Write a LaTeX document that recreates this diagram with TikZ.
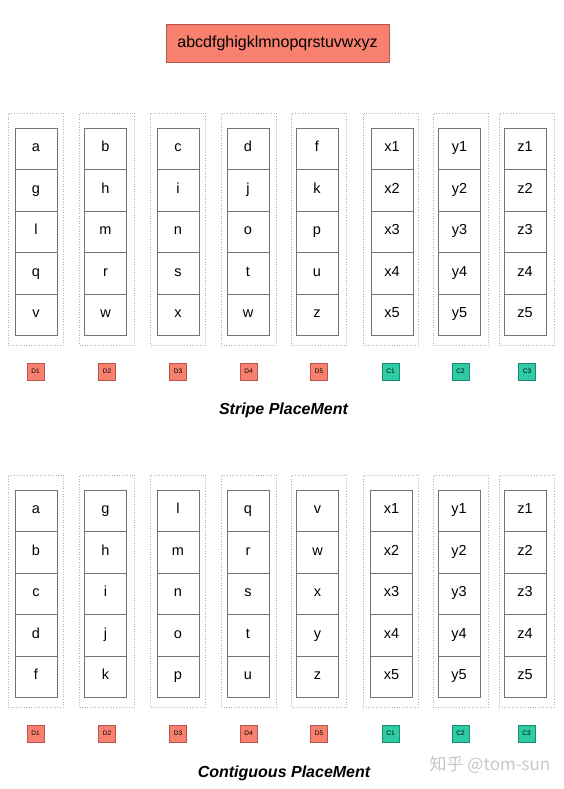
\documentclass[tikz,border=0pt]{standalone}
\usepackage{fontspec}
\setmainfont{Liberation Sans}
\newfontfamily\cjk{Noto Sans CJK SC}
\usetikzlibrary{positioning}
\definecolor{salmonfill}{HTML}{F8806F}
\definecolor{salmonline}{HTML}{B85450}
\definecolor{tealfill}{HTML}{2ECBA4}
\definecolor{tealline}{HTML}{1B8A6E}
\begin{document}
\begin{tikzpicture}[x=1pt,y=-1pt]
                \tikzstyle{cell}=[draw=black!55, line width=0.7pt, minimum width=42pt, minimum height=41.5pt, inner sep=0pt, outer sep=0pt, text height=1.45ex, text depth=0.3ex, font=\fontsize{14.5}{16}\selectfont]
                \tikzstyle{slot}=[draw=black!30, dotted, line width=0.6pt, minimum width=55pt, minimum height=232pt, inner sep=0pt, outer sep=0pt]
                \tikzstyle{disk}=[draw=salmonline, fill=salmonfill, minimum size=17pt, inner sep=0pt, font=\fontsize{6.5}{7}\selectfont]
                \tikzstyle{chk}=[disk, draw=tealline, fill=tealfill]
                \tikzstyle{caption}=[font=\fontsize{16}{18}\bfseries\itshape\selectfont]
                \useasboundingbox (0,0) rectangle (564,789);
                \node [draw=salmonline, fill=salmonfill, minimum width=223pt, minimum height=38pt, font=\fontsize{16}{18}\selectfont] (data) at (277.5,43) {abcdfghigklmnopqrstuvwxyz};
                \foreach \x/\sx/\n/\st/\lst in {36/35.5/D1/disk/{a,g,l,q,v}, 105.5/107/D2/disk/{b,h,m,r,w}, 178/178/D3/disk/{c,i,n,s,x}, 248/248.5/D4/disk/{d,j,o,t,w}, 317/319/D5/disk/{f,k,p,u,z}, 392/390.5/C1/chk/{x1,x2,x3,x4,x5}, 459.5/460.5/C2/chk/{y1,y2,y3,y4,y5}, 525/527/C3/chk/{z1,z2,z3,z4,z5}} {
                    \node [slot] (s\n) at (\sx,229) {};
                    \node [\st, below=18pt of s\n] (s\n-lbl) {\n};
                    \foreach \t [count=\i] in \lst
                        \node [cell] (s\n-\i) at (\x,{148.75+41.5*(\i-1)}) {\t};
                }
                \node [caption] (stripe) at (283.5,410) {Stripe PlaceMent};
                \foreach \x/\sx/\n/\st/\lst in {36/35.5/D1/disk/{a,b,c,d,f}, 105.5/107/D2/disk/{g,h,i,j,k}, 178/178/D3/disk/{l,m,n,o,p}, 248/248.5/D4/disk/{q,r,s,t,u}, 317.5/319/D5/disk/{v,w,x,y,z}, 391.5/390.5/C1/chk/{x1,x2,x3,x4,x5}, 459/460.5/C2/chk/{y1,y2,y3,y4,y5}, 525/526.5/C3/chk/{z1,z2,z3,z4,z5}} {
                    \node [slot] (c\n) at (\sx,591) {};
                    \node [\st, below=18pt of c\n] (c\n-lbl) {\n};
                    \foreach \t [count=\i] in \lst
                        \node [cell] (c\n-\i) at (\x,{510.75+41.5*(\i-1)}) {\t};
                }
                \node [caption] (contiguous) at (284,773) {Contiguous PlaceMent};
                \node [text=black!22, font=\cjk\fontsize{17}{19}\selectfont] (mark) at (490,765) {知乎 @tom-sun};
            \end{tikzpicture}
\end{document}
